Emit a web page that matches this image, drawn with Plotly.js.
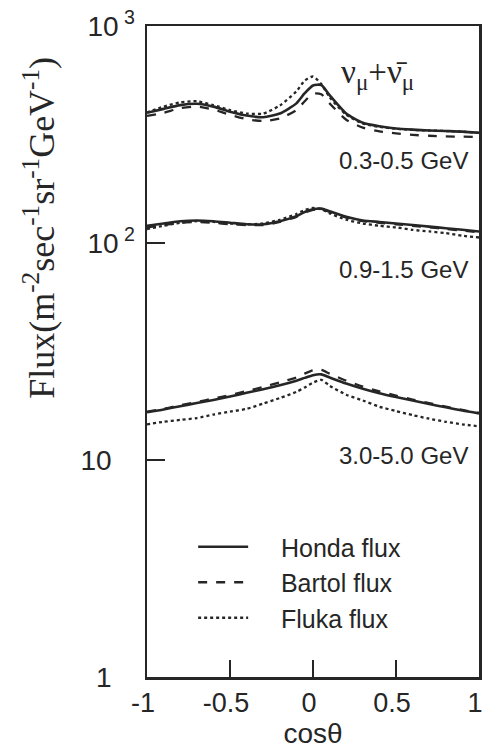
<!DOCTYPE html>
<html>
<head>
<meta charset="utf-8">
<script src="https://cdn.plot.ly/plotly-3.0.1.min.js"></script>
<style>html,body{margin:0;padding:0;background:#fff;}#chart{width:483px;height:755px;}</style>
</head>
<body>
<div id="chart"></div>
<script>
// cos(theta) sample points
var cosTheta = [-1, -0.9, -0.8, -0.7, -0.6, -0.5, -0.4, -0.3, -0.2, -0.1, -0.05, 0, 0.05, 0.1, 0.2, 0.3, 0.4, 0.5, 0.6, 0.7, 0.8, 0.9, 1];

// 0.3-0.5 GeV
var hondaLow  = [398, 415, 432, 438, 425, 403, 387, 380, 395, 440, 490, 532, 535, 480, 395, 358, 345, 337, 333, 330, 328, 326, 322];
var bartolLow = [385, 398, 418, 425, 412, 390, 372, 365, 375, 410, 450, 488, 485, 440, 370, 340, 327, 320, 315, 312, 310, 309, 308];
var flukaLow  = [400, 425, 445, 450, 432, 410, 395, 395, 430, 500, 560, 585, 540, 470, 390, 355, 343, 336, 332, 330, 328, 326, 322];

// 0.9-1.5 GeV
var hondaMid  = [120, 123, 126, 127, 126, 124, 122, 122, 126, 133, 139, 143, 144, 140, 132, 127, 125, 123, 121, 119, 117, 115, 113];
var bartolMid = [118, 121, 124, 125, 124, 122, 121, 121, 125, 132, 138, 142, 143, 139, 131, 126, 124, 122, 120, 118, 116, 114, 112];
var flukaMid  = [116, 120, 124, 126, 125, 123, 122, 123, 128, 136, 142, 145, 143, 137, 128, 123, 120, 118, 115, 113, 111, 108, 106];

// 3.0-5.0 GeV
var hondaHigh  = [16.6, 17.1, 17.7, 18.3, 18.9, 19.6, 20.4, 21.2, 22.1, 23.2, 23.9, 24.6, 24.8, 24.0, 22.5, 21.3, 20.3, 19.5, 18.8, 18.1, 17.5, 16.9, 16.4];
var bartolHigh = [16.7, 17.2, 17.9, 18.5, 19.2, 19.9, 20.8, 21.7, 22.8, 24.0, 25.0, 25.9, 26.0, 25.0, 23.2, 21.8, 20.7, 19.8, 19.0, 18.3, 17.6, 17.0, 16.5];
var flukaHigh  = [14.6, 15.0, 15.3, 15.6, 16.2, 16.7, 17.2, 18.2, 19.3, 20.6, 21.6, 22.7, 23.4, 22.0, 20.0, 18.8, 17.6, 16.8, 16.1, 15.5, 15.0, 14.6, 14.3];

var modelNames = ['Honda flux', 'Bartol flux', 'Fluka flux'];
var bandLabels = ['0.3-0.5 GeV', '0.9-1.5 GeV', '3.0-5.0 GeV'];
var bandLabelY = [283, 89, 12.4];

var yTickVals = [1, 10, 100, 1000];
var yTickText = ['1\u00a0\u00a0\u00a0', '10\u00a0\u00a0\u00a0', '10<sup> 2</sup>', '10<sup> 3</sup>'];
var xTickVals = [-1, -0.5, 0, 0.5, 1];
var xTickText = ['-1', '-0.5', '0', '0.5', '1'];

var ink = '#262626';
var dashes = ['solid', 'dash', 'dot'];
var sets = [
  [hondaLow, bartolLow, flukaLow],
  [hondaMid, bartolMid, flukaMid],
  [hondaHigh, bartolHigh, flukaHigh]
];

var traces = [];
sets.forEach(function (set, si) {
  set.forEach(function (vals, mi) {
    traces.push({
      x: cosTheta, y: vals, type: 'scatter', mode: 'lines',
      name: '\u00a0\u00a0\u00a0\u00a0' + modelNames[mi], legendgroup: modelNames[mi],
      showlegend: si === 0,
      line: {color: ink, width: mi === 0 ? 2.6 : 2.3, dash: dashes[mi], shape: 'spline', smoothing: 0.6},
      hoverinfo: 'skip'
    });
  });
});

var annotations = bandLabels.map(function (t, i) {
  return {x: 0.948, xref: 'x', y: Math.log10(bandLabelY[i]), yref: 'y', text: t, showarrow: false,
    xanchor: 'right', yanchor: 'top', font: {family: 'Liberation Sans, Arial', size: 24, color: ink}};
});
annotations.push({x: 0.39, xref: 'x', y: 0.925, yref: 'paper', showarrow: false,
  text: 'ν<sub>μ</sub>+ν̄<sub>μ</sub>', xanchor: 'center', yanchor: 'middle',
  font: {family: 'Liberation Serif, Times New Roman', size: 33, color: ink}});
annotations.push({x: (40 - 147) / 332, xref: 'paper', xanchor: 'center', y: 0.69, yref: 'paper', yanchor: 'middle',
  text: 'Flux(m<sup>-2</sup>sec<sup>-1</sup>sr<sup>-1</sup>GeV<sup>-1</sup>)', textangle: -90, showarrow: false,
  font: {family: 'Liberation Serif, Times New Roman', size: 36, color: ink}});

var layout = {
  width: 483, height: 755,
  margin: {l: 147, r: 4, t: 26, b: 78},
  paper_bgcolor: '#fff', plot_bgcolor: '#fff',
  font: {family: 'Liberation Sans, Arial', color: ink, size: 24},
  showlegend: true,
  legend: {x: 0.139, xanchor: 'left', y: 0.235, yanchor: 'top', bgcolor: 'rgba(0,0,0,0)',
    font: {size: 25, family: 'Liberation Sans, Arial', color: ink}, itemwidth: 50, tracegroupgap: 0},
  xaxis: {
    range: [-1, 1], tickmode: 'array', tickvals: xTickVals, ticktext: xTickText,
    ticks: 'inside', ticklen: 17, tickwidth: 2, tickcolor: ink,
    showline: true, linewidth: 2.5, linecolor: ink, mirror: true, showgrid: false, zeroline: false,
    tickfont: {size: 27}, ticklabelshift: -4,
    title: {text: 'cosθ', font: {size: 28}, standoff: 4}
  },
  yaxis: {
    type: 'log', range: [0, 3], tickmode: 'array', tickvals: yTickVals, ticktext: yTickText,
    ticks: 'inside', ticklen: 18, tickwidth: 2, tickcolor: ink,
    showline: true, linewidth: 2.5, linecolor: ink, mirror: true, showgrid: false, zeroline: false,
    tickfont: {size: 28}, ticklabelstandoff: 4
  },
  annotations: annotations
};

Plotly.newPlot('chart', traces, layout, {staticPlot: true, displayModeBar: false});
</script>
</body>
</html>
